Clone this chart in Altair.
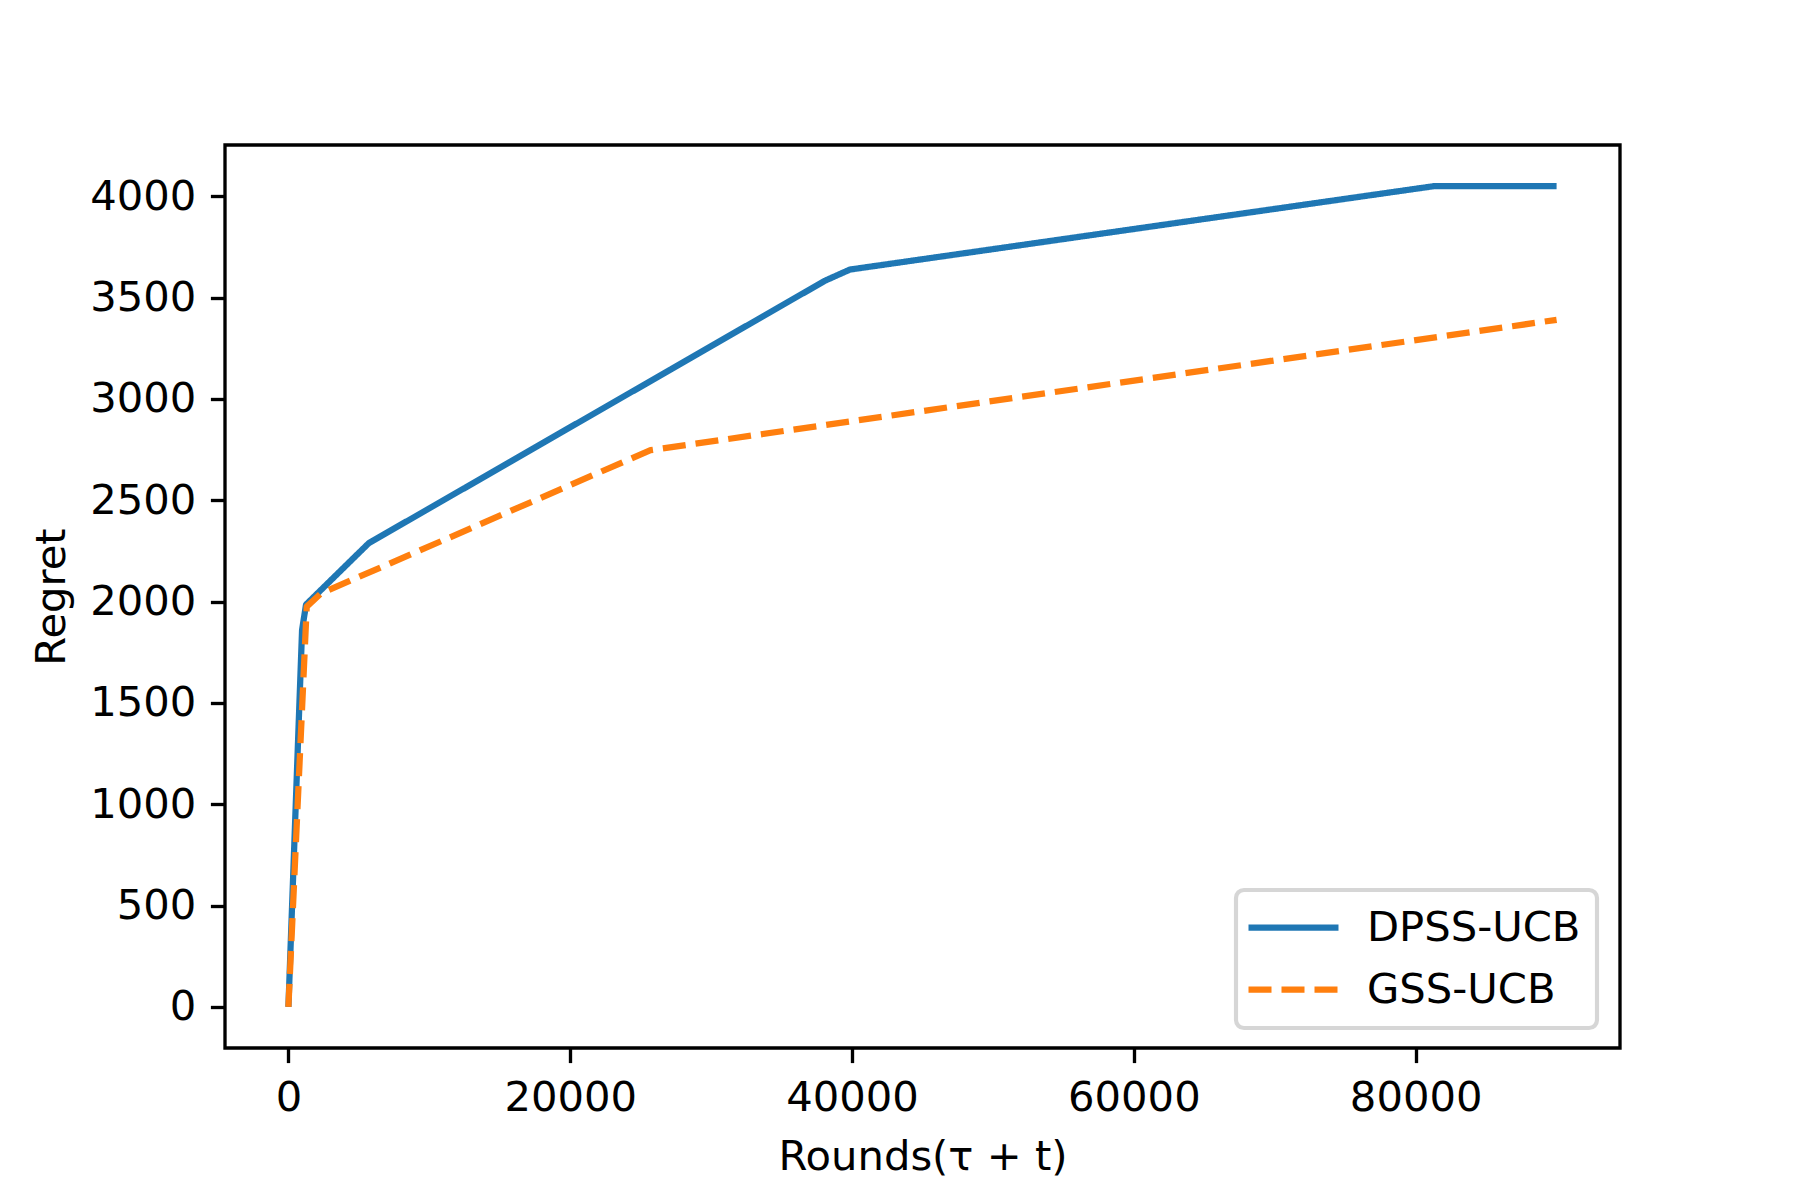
import altair as alt
import pandas as pd

# Data
dpss_x = [0, 970, 1250, 5700, 38050, 39850, 81350, 90000]
dpss_y = [0, 1860, 1985, 2288, 3582, 3638, 4050, 4050]
gss_x = [0, 1300, 2300, 25700, 90000]
gss_y = [0, 1975, 2040, 2747, 3390]
series_names = ["DPSS-UCB", "GSS-UCB"]
x_ticks = [0, 20000, 40000, 60000, 80000]
y_ticks = [0, 500, 1000, 1500, 2000, 2500, 3000, 3500, 4000]

df = pd.concat([
    pd.DataFrame({"x": dpss_x, "y": dpss_y, "series": series_names[0]}),
    pd.DataFrame({"x": gss_x, "y": gss_y, "series": series_names[1]}),
], ignore_index=True)

FONT = "DejaVu Sans"
FS = 41.7
LW = 6.25
SPINE = 3.33

chart = alt.Chart(df).mark_line(
    strokeWidth=LW, strokeJoin="round"
).encode(
    x=alt.X("x:Q",
            scale=alt.Scale(domain=[-4500, 94500], nice=False, zero=False),
            axis=alt.Axis(values=x_ticks, title="Rounds(τ + t)", format="d",
                          grid=False, domain=False, tickSize=14.6,
                          tickWidth=SPINE, tickColor="black",
                          labelPadding=14.6, titlePadding=18)),
    y=alt.Y("y:Q",
            scale=alt.Scale(domain=[-202.5, 4252.5], nice=False, zero=False),
            axis=alt.Axis(values=y_ticks, title="Regret", format="d",
                          grid=False, domain=False, tickSize=14.6,
                          tickWidth=SPINE, tickColor="black",
                          labelPadding=14.6, titlePadding=16)),
    color=alt.Color("series:N",
                    scale=alt.Scale(domain=series_names, range=["#1f77b4", "#ff7f0e"]),
                    sort=series_names,
                    legend=alt.Legend(title=None, orient="none",
                                      legendX=1011, legendY=745)),
    strokeDash=alt.StrokeDash("series:N",
                              scale=alt.Scale(domain=series_names, range=[[1, 0], [23, 10]]),
                              sort=series_names,
                              legend=alt.Legend(title=None, orient="none",
                                                legendX=1011, legendY=745)),
    order=alt.Order("x:Q"),
).properties(
    width=1395,
    height=903,
    autosize=alt.AutoSizeParams(type="none"),
    padding={"left": 217, "top": 137, "right": 172, "bottom": 144},
).configure_view(
    stroke="black", strokeWidth=SPINE
).configure_axis(
    labelFont=FONT, titleFont=FONT, labelFontSize=FS, titleFontSize=FS,
    labelColor="black", titleColor="black", titleFontWeight="normal",
).configure_legend(
    labelFont=FONT, labelFontSize=FS, labelColor="black", labelLimit=500,
    padding=16, rowPadding=18,
    strokeColor="#d6d6d6", strokeWidth=4.17, cornerRadius=8,
    fillColor="white",
    symbolType="M-2.5,0H2.5", symbolSize=1296, symbolStrokeWidth=LW,
    symbolOffset=20, labelOffset=52,
)

chart.save("out.html", embed_options={"renderer": "svg", "actions": False})
